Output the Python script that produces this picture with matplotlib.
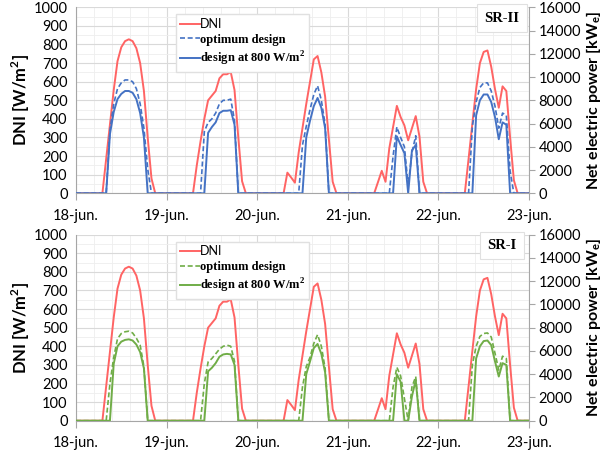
import numpy as np
import matplotlib.pyplot as plt
from matplotlib.ticker import MultipleLocator, FixedLocator
from matplotlib.lines import Line2D

plt.rcParams['font.family'] = ['Lato', 'DejaVu Sans']

# values for hours 7..21 of every day (18-jun .. 22-jun); night hours are zero
day_hours = np.arange(7, 22)
day_labels = ['18-jun.', '19-jun.', '20-jun.', '21-jun.', '22-jun.', '23-jun.']

# DNI [W/m2]
dni = [
    [0, 185, 370, 555, 710, 785, 818, 828, 818, 780, 700, 550, 300, 80, 0],
    [0, 150, 280, 400, 500, 525, 550, 618, 640, 640, 652, 555, 300, 65, 0],
    [0, 111, 85, 57, 220, 350, 480, 600, 720, 738, 650, 520, 290, 62, 0],
    [0, 60, 121, 62, 242, 356, 470, 410, 365, 285, 350, 415, 304, 62, 0],
    [0, 185, 375, 560, 700, 760, 768, 680, 560, 460, 575, 550, 300, 70, 0],
]

# SR-II net electric power [kWe]
sr2_opt = [
    [0, 0, 5400, 7700, 9000, 9500, 9750, 9750, 9600, 9000, 7700, 5600, 2100, 0, 0],
    [0, 0, 0, 5300, 6100, 6400, 6900, 7700, 8000, 8000, 8100, 6250, 0, 0, 0],
    [0, 0, 0, 0, 0, 4150, 5750, 7200, 8500, 9250, 8000, 5900, 0, 0, 0],
    [0, 0, 0, 0, 0, 3200, 5700, 4800, 4000, 650, 3500, 4950, 0, 0, 0],
    [0, 0, 5750, 7850, 9100, 9500, 9500, 8800, 7500, 5600, 6900, 6700, 1900, 0, 0],
]
sr2_800 = [
    [0, 0, 5100, 7000, 8100, 8550, 8800, 8800, 8650, 8100, 6900, 4800, 0, 0, 0],
    [0, 0, 0, 0, 5200, 5700, 6100, 6900, 7100, 7100, 7150, 5900, 0, 0, 0],
    [0, 0, 0, 0, 0, 0, 4800, 6250, 7500, 8200, 7350, 5600, 0, 0, 0],
    [0, 0, 0, 0, 0, 0, 4900, 4150, 3450, 0, 3700, 4150, 0, 0, 0],
    [0, 0, 0, 6700, 8000, 8500, 8500, 7850, 6550, 4650, 6100, 5900, 0, 0, 0],
]

# SR-I net electric power [kWe]
sr1_opt = [
    [0, 0, 3200, 5450, 7050, 7500, 7650, 7700, 7550, 7100, 6500, 4650, 0, 0, 0],
    [0, 0, 0, 3200, 5050, 5350, 5750, 6150, 6400, 6500, 6400, 5100, 0, 0, 0],
    [0, 0, 0, 0, 0, 2900, 4650, 5450, 6650, 7400, 6400, 4500, 0, 0, 0],
    [0, 0, 0, 0, 0, 2900, 4600, 3850, 1900, 0, 2900, 3800, 0, 0, 0],
    [0, 0, 4800, 6400, 7250, 7500, 7550, 7200, 5800, 4350, 5550, 5350, 0, 0, 0],
]
sr1_800 = [
    [0, 0, 0, 4900, 6400, 6800, 6950, 7000, 6900, 6550, 5900, 4500, 0, 0, 0],
    [0, 0, 0, 0, 4250, 4550, 4950, 5500, 5700, 5750, 5700, 4800, 0, 0, 0],
    [0, 0, 0, 0, 0, 0, 4000, 5100, 6250, 6600, 5750, 4150, 0, 0, 0],
    [0, 0, 0, 0, 0, 0, 4000, 3350, 0, 0, 2100, 3500, 0, 0, 0],
    [0, 0, 0, 5350, 6400, 6850, 6900, 6500, 5100, 3800, 4950, 4800, 0, 0, 0],
]

t = np.arange(0, 121)

def series(days):
    y = np.zeros(len(t))
    for d, vals in enumerate(days):
        y[d*24 + day_hours] = vals
    return y

RED = '#FF6464'
BLUE = '#4472C4'
GREEN = '#70AD47'
GRID = '#D9D9D9'
GRID_MINOR = '#EEEEEE'
SPINE = '#A6A6A6'

fig = plt.figure(figsize=(6.02, 4.53), dpi=100)

panels = [
    (0.5733, sr2_opt, sr2_800, BLUE, 'SR-II'),
    (0.0713, sr1_opt, sr1_800, GREEN, 'SR-I'),
]

for bottom, opt, d800, col, tag in panels:
    ax = fig.add_axes([0.1262, bottom, 0.7525, 0.4106])
    ax.set_xlim(0, 120)
    ax.set_ylim(0, 1000)
    ax.xaxis.set_major_locator(FixedLocator(np.arange(0, 121, 24)))
    ax.set_xticklabels(day_labels)
    ax.xaxis.set_minor_locator(MultipleLocator(4.8))
    ax.yaxis.set_major_locator(MultipleLocator(100))
    ax.yaxis.set_minor_locator(MultipleLocator(50))
    ax.grid(which='major', color=GRID, lw=0.8)
    ax.grid(which='minor', color=GRID_MINOR, lw=0.6)
    ax.set_axisbelow(True)
    for s in ['top', 'right']:
        ax.spines[s].set_visible(False)
    ax.spines['left'].set_color(SPINE)
    ax.spines['bottom'].set_color(SPINE)
    ax.tick_params(axis='y', which='both', length=0, labelsize=10.5, pad=6)
    ax.tick_params(axis='x', which='major', length=5, color=SPINE, direction='out',
                   labelsize=10.5, pad=6)
    ax.tick_params(axis='x', which='minor', length=0)
    ax.set_ylabel('DNI [W/m$^\\mathregular{2}$]', fontsize=12, fontweight='bold', labelpad=1)

    ax.plot(t, series(dni), color=RED, lw=1.4)

    ax2 = ax.twinx()
    ax2.set_ylim(0, 16000)
    ax2.yaxis.set_major_locator(MultipleLocator(2000))
    for s in ['top', 'left', 'bottom']:
        ax2.spines[s].set_visible(False)
    ax2.spines['right'].set_color(SPINE)
    ax2.tick_params(axis='y', length=4, color=SPINE, direction='out', labelsize=10.5, pad=3)
    ax2.set_ylabel('Net electric power [kW$_\\mathregular{e}$]', fontsize=11.5,
                   fontweight='bold', labelpad=2)
    ax2.plot(t, series(opt), color=col, lw=1.2, ls=(0, (3, 1.6)))
    ax2.plot(t, series(d800), color=col, lw=1.4)

    handles = [Line2D([], [], color=RED, lw=1.4),
               Line2D([], [], color=col, lw=1.2, ls=(0, (3, 1.6))),
               Line2D([], [], color=col, lw=1.4)]
    leg = ax2.legend(handles, ['DNI', 'optimum design', 'design at 800 W/m$^\\mathregular{2}$'],
                     loc='upper left', bbox_to_anchor=(0.2075, 0.996), frameon=True,
                     fancybox=False, edgecolor='#E0E0E0', framealpha=1,
                     handlelength=1.6, handletextpad=0.0, borderpad=0.3,
                     labelspacing=0.3, fontsize=9)
    texts = leg.get_texts()
    texts[0].set_fontfamily(['Lato'])
    for tx in texts[1:]:
        tx.set_fontfamily(['Liberation Serif'])
        tx.set_fontweight('bold')

    ax2.text(0.94, 0.941, tag, transform=ax2.transAxes, ha='center', va='center',
             fontsize=10.5, fontweight='bold', family=['Liberation Serif'],
             bbox=dict(boxstyle='square,pad=0.5', fc='white', ec='#E0E0E0', lw=0.8))

fig.savefig('out.png', dpi=100)
